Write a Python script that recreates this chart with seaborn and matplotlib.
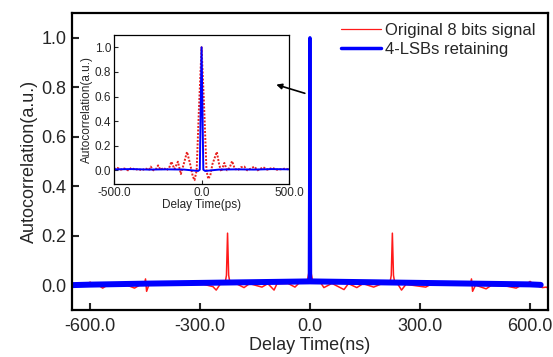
import numpy as np
import matplotlib
matplotlib.use('Agg')
import matplotlib.pyplot as plt
import seaborn as sns

# main trace, delay in ns
red_ns = [-650, -640, -625, -610, -600, -590, -575, -566, -555, -520, -500, -479, -465,
          -452, -449, -446, -440, -400, -360, -320, -290, -265, -256, -245, -232, -228,
          -225, -222, -218, -200, -180, -165, -131, -115, -98, -90, -60, -41, -30, -8,
          -3, 0, 3, 8, 30, 38, 60, 93, 105, 128, 145, 174, 195, 218, 222, 225, 228, 232,
          240, 250, 262, 316, 330, 380, 420, 438, 441, 444, 452, 481, 495, 530, 563, 575,
          590, 601, 612, 625, 635, 645, 650]
red_val = [-0.010, -0.005, 0.000, 0.005, 0.012, 0.000, -0.003, -0.012, -0.002, -0.002,
           0.000, -0.012, 0.000, 0.000, 0.025, -0.025, 0.000, 0.002, 0.002, 0.003,
           0.003, -0.006, -0.020, 0.004, 0.005, 0.040, 0.210, 0.040, 0.005, 0.005,
           -0.010, 0.006, -0.008, 0.006, -0.020, 0.006, 0.007, -0.008, 0.008, 0.012,
           0.050, 0.120, 0.050, 0.012, 0.008, -0.010, 0.007, -0.018, 0.006, -0.010,
           0.006, -0.008, 0.005, 0.005, 0.040, 0.210, 0.040, 0.005, 0.004, -0.020,
           0.003, -0.008, 0.003, 0.002, 0.001, 0.000, 0.025, -0.025, 0.000, -0.015,
           -0.001, -0.002, -0.012, -0.002, 0.002, 0.015, 0.000, -0.005, -0.010, -0.008,
           -0.012]

blue_ns = [-650, -600, -450, -300, -150, -2, 0, 2, 150, 300, 450, 600, 630]
blue_val = [0.000, 0.002, 0.006, 0.009, 0.012, 0.015, 1.000, 0.015, 0.012, 0.009,
            0.006, 0.003, 0.001]

# inset trace, delay in ps
red_ps = [-500, -480, -460, -440, -420, -400, -380, -360, -340, -320, -300, -290, -275,
          -260, -248, -235, -215, -200, -185, -172, -155, -135, -118, -100, -83, -65,
          -50, -40, -28, -15, 0, 15, 28, 38, 50, 62, 87, 100, 112, 130, 145, 160, 174,
          190, 210, 225, 244, 260, 275, 301, 320, 352, 375, 403, 430, 460, 480, 500]
red_ps_val = [0.010, 0.020, 0.005, 0.015, 0.000, 0.020, 0.005, 0.010, 0.000, 0.015,
              0.005, 0.030, 0.000, 0.010, 0.040, 0.005, 0.020, 0.000, 0.020, 0.070,
              0.010, 0.070, -0.030, 0.060, 0.150, 0.050, -0.050, -0.080, 0.000, 0.500,
              1.000, 0.500, 0.000, -0.070, -0.040, 0.050, 0.150, 0.050, -0.010, 0.060,
              0.000, 0.020, 0.075, 0.010, 0.005, 0.025, 0.030, 0.000, 0.010, 0.030,
              0.000, 0.025, 0.005, 0.020, 0.005, 0.010, 0.015, 0.005]

blue_ps = [-500, -400, -300, -200, -100, -20, -10, 0, 10, 20, 100, 200, 300, 400, 500]
blue_ps_val = [0.008, 0.010, 0.006, 0.008, 0.006, -0.005, 0.005, 1.000, 0.005, -0.005,
               0.006, 0.008, 0.006, 0.010, 0.008]

main_xticks = [-600, -300, 0, 300, 600]
main_yticks = [0.0, 0.2, 0.4, 0.6, 0.8, 1.0]
inset_xticks = [-500, 0, 500]
inset_yticks = [0.0, 0.2, 0.4, 0.6, 0.8, 1.0]


def main():
    sns.set_theme(style='ticks')
    plt.rcParams['font.family'] = ['Liberation Sans', 'DejaVu Sans']
    plt.rcParams['axes.unicode_minus'] = False

    fig = plt.figure(figsize=(5.53, 3.57), dpi=100)
    ax = fig.add_axes([0.130, 0.132, 0.861, 0.832])

    sns.lineplot(x=red_ns, y=red_val, ax=ax, color='#ff1a1a', lw=1.1,
                 estimator=None, sort=False)
    # blue: thick noisy band along the floor, thinner at the zero-delay peak
    bx = np.array(blue_ns)
    by = np.array(blue_val)
    floor = by < 0.5
    sns.lineplot(x=bx, y=by, ax=ax, color='#0000ff', lw=2.2,
                 estimator=None, sort=False)
    ax.plot(bx[bx < 0][floor[bx < 0]], by[bx < 0][floor[bx < 0]], color='#0000ff', lw=4.3)
    ax.plot(bx[bx > 0][floor[bx > 0]], by[bx > 0][floor[bx > 0]], color='#0000ff', lw=4.3)

    ax.set_xlim(-650, 650)
    ax.set_ylim(-0.1, 1.1)
    ax.set_xticks(main_xticks)
    ax.set_xticklabels(['%.1f' % v for v in main_xticks])
    ax.set_yticks(main_yticks)
    ax.set_yticklabels(['%.1f' % v for v in main_yticks])
    ax.tick_params(direction='in', length=5, width=1.5, labelsize=13, pad=4)
    ax.tick_params(axis='x', pad=6)
    for s in ax.spines.values():
        s.set_linewidth(1.6)
        s.set_color('black')
    ax.set_xlabel('Delay Time(ns)', fontsize=13, labelpad=1)
    ax.set_ylabel('Autocorrelation(a.u.)', fontsize=13, labelpad=2)

    h1, = ax.plot([], [], color='#ff1a1a', lw=0.9)
    h2, = ax.plot([], [], color='#0000ff', lw=2.5)
    ax.legend([h1, h2], ['Original 8 bits signal', '4-LSBs retaining'],
              loc='upper right', bbox_to_anchor=(0.995, 1.0), frameon=False,
              fontsize=12, handlelength=2.4, handletextpad=0.25, labelspacing=0.25,
              borderaxespad=0.2)

    # inset
    ins = fig.add_axes([0.206, 0.485, 0.317, 0.417])
    sns.lineplot(x=red_ps, y=red_ps_val, ax=ins, color='#e8201e', lw=1.4,
                 linestyle=(0, (1, 0.8)), estimator=None, sort=False)
    sns.lineplot(x=blue_ps, y=blue_ps_val, ax=ins, color='#0000ff', lw=1.4,
                 estimator=None, sort=False)
    ins.set_xlim(-500, 500)
    ins.set_ylim(-0.11, 1.1)
    ins.set_xticks(inset_xticks)
    ins.set_xticklabels(['%.1f' % v for v in inset_xticks])
    ins.set_yticks(inset_yticks)
    ins.set_yticklabels(['%.1f' % v for v in inset_yticks])
    ins.tick_params(direction='in', length=3, width=0.8, labelsize=8.5, pad=2)
    for s in ins.spines.values():
        s.set_linewidth(0.9)
        s.set_color('black')
    ins.set_xlabel('Delay Time(ps)', fontsize=8.5, labelpad=0)
    ins.set_ylabel('Autocorrelation(a.u.)', fontsize=8.5, labelpad=1)

    # arrow pointing from the main peak into the inset, drawn above the inset
    ins.annotate('', xy=(-92, 0.81), xytext=(-14, 0.775),
                 xycoords=ax.transData, textcoords=ax.transData,
                 annotation_clip=False,
                 arrowprops=dict(arrowstyle='-|>', color='black', lw=1.2,
                                 mutation_scale=8, shrinkA=0, shrinkB=0))

    fig.savefig('out.png', dpi=100)


if __name__ == '__main__':
    main()
